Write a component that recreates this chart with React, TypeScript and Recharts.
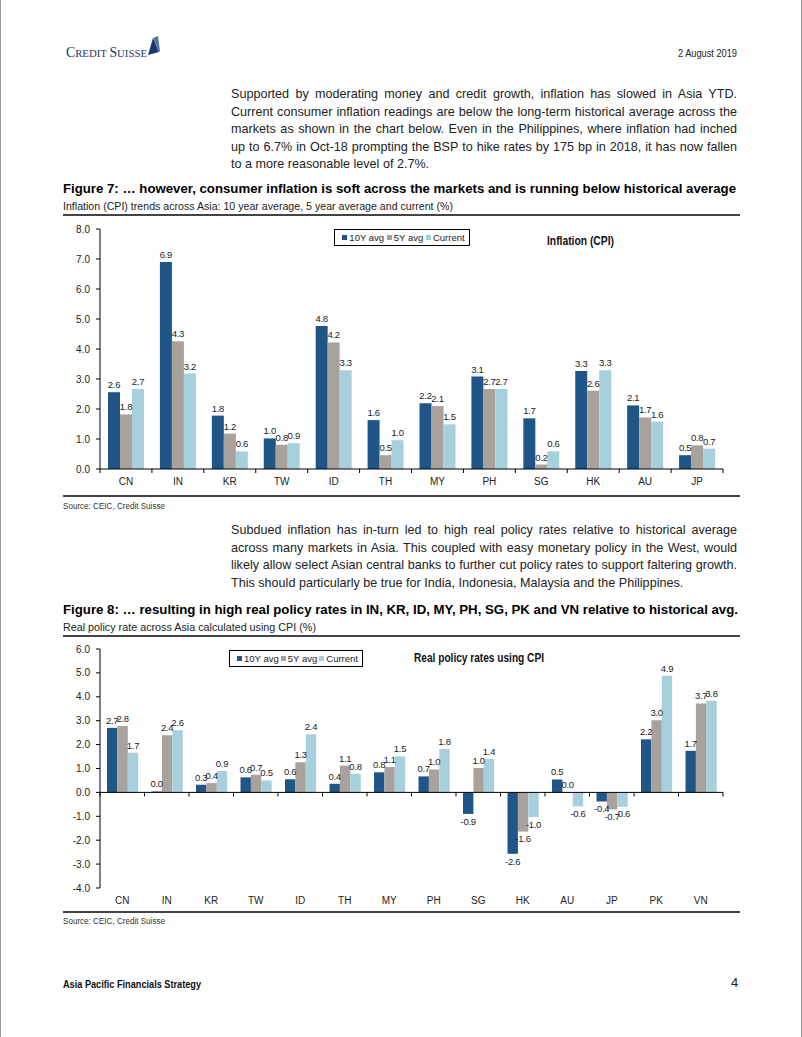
import React from "react";
import { Bar, BarChart, LabelList, Legend, ReferenceLine, XAxis, YAxis } from "recharts";

const SANS = "'Liberation Sans', Arial, sans-serif";

const SERIES_NAMES = ["10Y avg", "5Y avg", "Current"];
const SERIES_COLORS = ["#1F5587", "#A9A19B", "#A7CFDC"];

// Figure 7: inflation (CPI)
const CPI_MARKETS = ["CN", "IN", "KR", "TW", "ID", "TH", "MY", "PH", "SG", "HK", "AU", "JP"];
const CPI_10Y = [2.56, 6.9, 1.78, 1.02, 4.77, 1.63, 2.19, 3.08, 1.69, 3.27, 2.12, 0.46];
const CPI_5Y = [1.82, 4.26, 1.18, 0.81, 4.22, 0.46, 2.1, 2.67, 0.15, 2.61, 1.72, 0.79];
const CPI_CURRENT = [2.67, 3.18, 0.59, 0.86, 3.29, 0.96, 1.49, 2.67, 0.59, 3.29, 1.58, 0.68];
const CPI_TICKS = [0, 1, 2, 3, 4, 5, 6, 7, 8];

// Figure 8: real policy rates
const RATE_MARKETS = ["CN", "IN", "KR", "TW", "ID", "TH", "MY", "PH", "SG", "HK", "AU", "JP", "PK", "VN"];
const RATE_10Y = [2.7, 0.04, 0.32, 0.63, 0.55, 0.36, 0.84, 0.67, -0.9, -2.57, 0.54, -0.38, 2.22, 1.74];
const RATE_5Y = [2.78, 2.39, 0.39, 0.74, 1.26, 1.12, 1.06, 0.96, 1.02, -1.64, 0.01, -0.71, 3.02, 3.72];
const RATE_CURRENT = [1.66, 2.6, 0.9, 0.5, 2.43, 0.78, 1.51, 1.82, 1.4, -1.03, -0.59, -0.6, 4.88, 3.83];
const RATE_TICKS = [-4, -3, -2, -1, 0, 1, 2, 3, 4, 5, 6];

const cpiData = CPI_MARKETS.map((m, i) => ({ market: m, avg10: CPI_10Y[i], avg5: CPI_5Y[i], current: CPI_CURRENT[i] }));
const rateData = RATE_MARKETS.map((m, i) => ({ market: m, avg10: RATE_10Y[i], avg5: RATE_5Y[i], current: RATE_CURRENT[i] }));

const fmt = (v: any) => (Math.round(Number(v) * 10) / 10).toFixed(1);
const KEYS = ["avg10", "avg5", "current"];

function FitText({ x, y, w, size, weight = 400, color = "#000", family = SANS, children }: any) {
  return (
    <svg
      width={w}
      height={size * 1.5}
      style={{ position: "absolute", left: x, top: y - size * 1.1, overflow: "visible" }}
    >
      <text
        x={0}
        y={size * 1.1}
        fontSize={size}
        fontWeight={weight}
        fill={color}
        fontFamily={family}
        textLength={w}
        lengthAdjust="spacingAndGlyphs"
      >
        {children}
      </text>
    </svg>
  );
}

function Para({ top, lines }: { top: number; lines: string[] }) {
  return (
    <div style={{ position: "absolute", left: 230, top, width: 506, fontFamily: SANS, fontSize: 12.6, lineHeight: "17.6px", color: "#222" }}>
      {lines.map((l, i) => (
        <div
          key={i}
          style={{ textAlign: "justify", textAlignLast: i === lines.length - 1 ? "left" : "justify", whiteSpace: "nowrap" }}
        >
          {l}
        </div>
      ))}
    </div>
  );
}

function CategoryTick(props: any) {
  const { x, y, payload, index, visibleTicksCount, width, marks, plotWidth } = props;
  const band = (width || plotWidth) / visibleTicksCount;
  const axisY = y - 8;
  return (
    <g>
      {marks && <line x1={x - band / 2} x2={x - band / 2} y1={axisY} y2={axisY + 4} stroke="#000" />}
      {marks && index === visibleTicksCount - 1 && (
        <line x1={x + band / 2} x2={x + band / 2} y1={axisY} y2={axisY + 4} stroke="#000" />
      )}
      <text x={x} y={y} dy="0.75em" textAnchor="middle" fontSize={10} fill="#222">
        {payload.value}
      </text>
    </g>
  );
}

function ZeroAxis(props: any) {
  const { x1, x2, y1 } = props;
  const n = RATE_MARKETS.length;
  const band = (x2 - x1) / n;
  return (
    <g>
      <line x1={x1} x2={x2} y1={y1} y2={y1} stroke="#000" />
      {Array.from({ length: n + 1 }, (_, i) => (
        <line key={i} x1={x1 + i * band} x2={x1 + i * band} y1={y1} y2={y1 + 4} stroke="#000" />
      ))}
    </g>
  );
}

function BoxLegend({ payload, width }: any) {
  return (
    <div
      style={{
        width,
        height: 17,
        boxSizing: "border-box",
        border: "1px solid #000",
        background: "#fff",
        display: "flex",
        alignItems: "center",
        justifyContent: "space-around",
        padding: "0 3px 0 6px",
        fontSize: 9.5,
        color: "#222",
        fontFamily: SANS,
        whiteSpace: "nowrap",
      }}
    >
      {(payload || []).map((p: any) => (
        <span key={p.value} style={{ display: "flex", alignItems: "center" }}>
          <span style={{ width: 5, height: 5, background: p.color, marginRight: 2 }} />
          {p.value}
        </span>
      ))}
    </div>
  );
}

function Rule({ top }: { top: number }) {
  return <div style={{ position: "absolute", left: 62, top, width: 677, height: 1.5, background: "#444" }} />;
}

export default function App() {
  const axisStroke = { stroke: "#000" };
  const yTick = { fontSize: 10, fill: "#222" };

  const bars = (size: number) =>
    KEYS.map((k, i) => (
      <Bar key={k} dataKey={k} name={SERIES_NAMES[i]} fill={SERIES_COLORS[i]} barSize={size} isAnimationActive={false}>
        <LabelList
          dataKey={k}
          position="top"
          offset={4}
          formatter={fmt}
          fontSize={9.5}
          letterSpacing={-0.3}
          fill="#222"
        />
      </Bar>
    ));

  return (
    <div
      style={{
        position: "absolute",
        left: 0,
        top: 0,
        width: 802,
        height: 1037,
        background: "#fff",
        fontFamily: SANS,
        borderLeft: "1px solid #999",
        borderRight: "1px solid #999",
        boxSizing: "border-box",
        overflow: "hidden",
      }}
    >
      {/* header */}
      <svg width={30} height={24} style={{ position: "absolute", left: 138, top: 35 }}>
        <polygon points="9,20 14,3 20,17" fill="#1b3a6b" />
        <polygon points="14,3 19,1 21,16 20,17" fill="#5a76a0" />
      </svg>
      <FitText x={65} y={57} w={81} size={14} family="'Liberation Serif', serif" color="#1b3a6b">
        <tspan>C</tspan>
        <tspan fontSize={11}>REDIT </tspan>
        <tspan>S</tspan>
        <tspan fontSize={11}>UISSE</tspan>
      </FitText>
      <FitText x={677} y={57} w={59} size={11} color="#222">
        2 August 2019
      </FitText>

      <Para
        top={86}
        lines={[
          "Supported by moderating money and credit growth, inflation has slowed in Asia YTD.",
          "Current consumer inflation readings are below the long-term historical average across the",
          "markets as shown in the chart below. Even in the Philippines, where inflation had inched",
          "up to 6.7% in Oct-18 prompting the BSP to hike rates by 175 bp in 2018, it has now fallen",
          "to a more reasonable level of 2.7%.",
        ]}
      />

      {/* Figure 7 */}
      <FitText x={62} y={193} w={673} size={13.5} weight={700}>
        Figure 7: … however, consumer inflation is soft across the markets and is running below historical average
      </FitText>
      <FitText x={62} y={210} w={390} size={10.5} color="#222">
        Inflation (CPI) trends across Asia: 10 year average, 5 year average and current (%)
      </FitText>
      <Rule top={214} />

      <div style={{ position: "absolute", left: 60, top: 220, fontFamily: SANS }}>
        <BarChart width={680} height={280} data={cpiData} margin={{ top: 9, right: 18, left: 0, bottom: 0 }} barGap={0}>
          <YAxis
            domain={[0, 8]}
            ticks={CPI_TICKS}
            tickFormatter={(v: number) => v.toFixed(1)}
            width={39}
            tickSize={4}
            tickMargin={6}
            axisLine={axisStroke}
            tickLine={axisStroke}
            tick={yTick}
          />
          <XAxis
            dataKey="market"
            height={31}
            tickSize={4}
            tickMargin={4}
            tickLine={false}
            axisLine={axisStroke}
            tick={(p: any) => <CategoryTick {...p} marks plotWidth={623} />}
            interval={0}
          />
          <Legend
            verticalAlign="middle"
            align="center"
            layout="horizontal"
            wrapperStyle={{ left: 273, top: 9, width: 136 }}
            content={(p: any) => <BoxLegend {...p} width={136} />}
          />
          {bars(12)}
        </BarChart>
      </div>
      <FitText x={546} y={245} w={67} size={12} weight={700} color="#111">
        Inflation (CPI)
      </FitText>

      <Rule top={495} />
      <FitText x={62} y={509} w={102} size={8.5} color="#333">
        Source: CEIC, Credit Suisse
      </FitText>

      <Para
        top={522}
        lines={[
          "Subdued inflation has in-turn led to high real policy rates relative to historical average",
          "across many markets in Asia. This coupled with easy monetary policy in the West, would",
          "likely allow select Asian central banks to further cut policy rates to support faltering growth.",
          "This should particularly be true for India, Indonesia, Malaysia and the Philippines.",
        ]}
      />

      {/* Figure 8 */}
      <FitText x={62} y={614} w={675} size={13.5} weight={700}>
        Figure 8: … resulting in high real policy rates in IN, KR, ID, MY, PH, SG, PK and VN relative to historical avg.
      </FitText>
      <FitText x={62} y={631} w={253} size={10.5} color="#222">
        Real policy rate across Asia calculated using CPI (%)
      </FitText>
      <Rule top={635} />

      <div style={{ position: "absolute", left: 60, top: 640, fontFamily: SANS }}>
        <BarChart width={680} height={275} data={rateData} margin={{ top: 9, right: 18, left: 0, bottom: 0 }} barGap={0}>
          <YAxis
            domain={[-4, 6]}
            ticks={RATE_TICKS}
            tickFormatter={(v: number) => v.toFixed(1)}
            width={39}
            tickSize={4}
            tickMargin={6}
            axisLine={axisStroke}
            tickLine={axisStroke}
            tick={yTick}
          />
          <XAxis
            dataKey="market"
            height={27}
            tickSize={4}
            tickMargin={4}
            tickLine={false}
            axisLine={false}
            tick={(p: any) => <CategoryTick {...p} plotWidth={623} />}
            interval={0}
          />
          <Legend
            verticalAlign="middle"
            align="center"
            layout="horizontal"
            wrapperStyle={{ left: 168, top: 10, width: 134 }}
            content={(p: any) => <BoxLegend {...p} width={134} />}
          />
          {bars(10.4)}
          <ReferenceLine y={0} shape={(p: any) => <ZeroAxis {...p} />} />
        </BarChart>
      </div>
      <FitText x={413} y={662} w={130} size={12} weight={700} color="#111">
        Real policy rates using CPI
      </FitText>

      <Rule top={911} />
      <FitText x={62} y={924} w={102} size={8.5} color="#333">
        Source: CEIC, Credit Suisse
      </FitText>

      {/* footer */}
      <FitText x={62} y={988} w={138} size={10} weight={700} color="#111">
        Asia Pacific Financials Strategy
      </FitText>
      <div style={{ position: "absolute", left: 730, top: 975, fontSize: 13, color: "#222" }}>4</div>
    </div>
  );
}
